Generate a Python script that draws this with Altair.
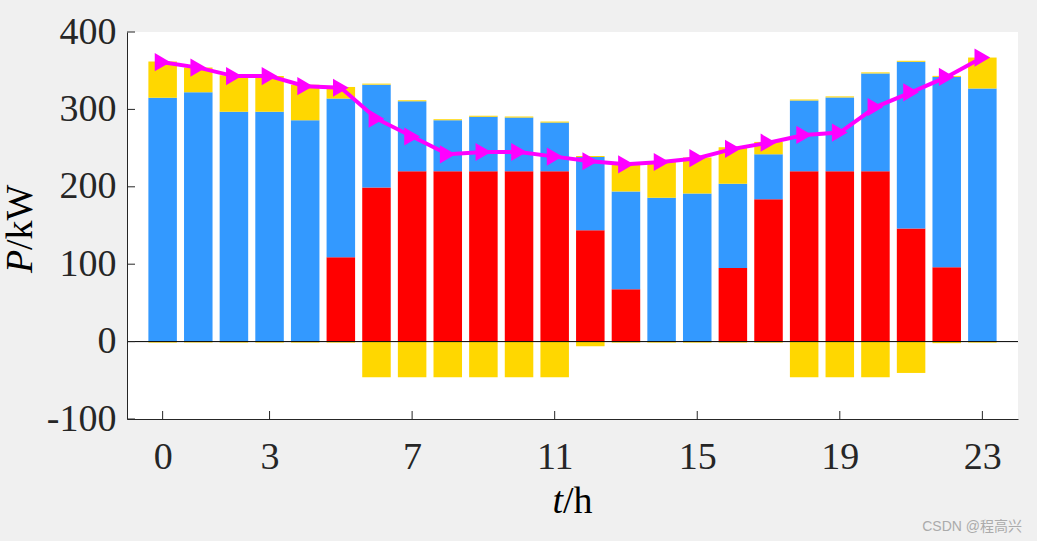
import altair as alt
import pandas as pd

hours = list(range(24))
red = [0, 0, 0, 0, 0, 109, 199, 220, 220, 220, 220, 220, 144, 67.5, 0, 0, 95, 184, 220, 220, 220, 146, 96, 0]
blue = [315, 322, 297, 297, 286, 205, 133, 90.5, 66, 70.5, 69.5, 63, 94.5, 126.5, 186, 191.5, 109, 58, 91.5, 95.5, 126.5, 215.5, 246, 327]
yellow_pos = [47, 32, 47, 46, 46, 15, 1.3, 1.3, 1.3, 1.3, 1.3, 1.3, 1.3, 36, 46, 46.5, 47, 16, 1.3, 1.3, 1.3, 1.3, 1.3, 40]
yellow_neg = [-1.3, -1.3, -1.3, -1.3, -1.3, -1.3, -46, -46, -46, -46, -46, -46, -6, -1.3, -1.3, -1.3, -1.3, -1.3, -46, -46, -46, -40.5, -2, -1.3]
load = [361, 354, 343, 343, 330, 328, 288, 265, 242, 245, 245, 239, 233, 229, 232, 237, 249, 257, 267, 270, 303, 322, 342, 367]

x_ticks = [0, 3, 7, 11, 15, 19, 23]
y_ticks = [-100, 0, 100, 200, 300, 400]

RED, BLUE, YELLOW, MAGENTA = "#FF0000", "#3399FF", "#FFD700", "#FF00FF"
AX = "#262626"
FONT = "Liberation Serif"
W, H = 891, 387

rows = []
for i, h in enumerate(hours):
    r, b, yp, yn = red[i], blue[i], yellow_pos[i], yellow_neg[i]
    rows.append(dict(hour=h, comp="red", lo=0, hi=r))
    rows.append(dict(hour=h, comp="blue", lo=r, hi=r + b))
    rows.append(dict(hour=h, comp="ypos", lo=r + b, hi=r + b + yp))
    rows.append(dict(hour=h, comp="yneg", lo=yn, hi=0))
bars_df = pd.DataFrame(rows)
bars_df["x0"] = bars_df["hour"] - 0.4
bars_df["x1"] = bars_df["hour"] + 0.4

line_df = pd.DataFrame({"hour": hours, "load": load})

xs = alt.Scale(domain=[-1, 24], nice=False, zero=False)
ys = alt.Scale(domain=[-100, 400], nice=False, zero=False)
x_axis = alt.Axis(values=x_ticks, title=None, ticks=False, grid=False,
                  labelFont=FONT, labelFontSize=38, labelColor=AX,
                  labelPadding=19, domainColor=AX, domainWidth=1, labelFlush=False,
                  labelExpr="datum.value + ''")
y_axis = alt.Axis(values=y_ticks, title=None, ticks=False, grid=False,
                  labelFont=FONT, labelFontSize=38, labelColor=AX,
                  labelPadding=11, domainColor=AX, domainWidth=1, labelFlush=False,
                  labelExpr="datum.value + ''")

bars = alt.Chart(bars_df).mark_bar(strokeWidth=0).encode(
    x=alt.X("x0:Q", scale=xs, axis=x_axis),
    x2="x1:Q",
    y=alt.Y("lo:Q", scale=ys, stack=None, axis=y_axis),
    y2="hi:Q",
    color=alt.Color("comp:N", scale=alt.Scale(domain=["red", "blue", "ypos", "yneg"],
                                              range=[RED, BLUE, YELLOW, YELLOW]), legend=None),
)

zero = alt.Chart(pd.DataFrame({"v": [0]})).mark_rule(color="black", strokeWidth=1).encode(
    y=alt.Y("v:Q", scale=ys, axis=y_axis), x=alt.value(0), x2=alt.value(W)
)

line = alt.Chart(line_df).mark_line(color=MAGENTA, strokeWidth=4).encode(
    x=alt.X("hour:Q", scale=xs, axis=x_axis), y=alt.Y("load:Q", scale=ys, axis=y_axis)
)
pts = alt.Chart(line_df).mark_point(shape="triangle-right", filled=True, size=330, color=MAGENTA, opacity=1).encode(
    x=alt.X("hour:Q", scale=xs, axis=x_axis), y=alt.Y("load:Q", scale=ys, axis=y_axis)
)

yt = alt.Chart(pd.DataFrame({"v": y_ticks})).mark_rule(color=AX, strokeWidth=1).encode(
    y=alt.Y("v:Q", scale=ys, axis=y_axis), x=alt.value(0), x2=alt.value(8)
)
xt = alt.Chart(pd.DataFrame({"v": x_ticks})).mark_rule(color=AX, strokeWidth=1).encode(
    x=alt.X("v:Q", scale=xs, axis=x_axis), y=alt.value(H), y2=alt.value(H - 8)
)

def txt(s, x, y, italic=False, align="left", angle=0, size=38, font=FONT, color="black"):
    return alt.Chart(pd.DataFrame({"t": [s]})).mark_text(
        font=font, fontSize=size, fontStyle="italic" if italic else "normal",
        align=align, baseline="alphabetic", angle=angle, color=color
    ).encode(text="t:N", x=alt.value(x), y=alt.value(y))

t1 = txt("t", 436, 481, italic=True, align="right")
t2 = txt("/h", 436, 481)
p1 = txt("P", -95, 241, italic=True, angle=270)
p2 = txt("/kW", -95, 218, angle=270)
wm = txt("CSDN @程高兴", 895, 499, align="right", size=14,
         font="Liberation Sans, Noto Sans CJK SC", color="#ababab")

chart = alt.layer(bars, zero, line, pts, yt, xt, t1, t2, p1, p2, wm).properties(
    width=W, height=H, background="#F0F0F0",
    autosize=alt.AutoSizeParams(type="none"),
    padding={"left": 127, "top": 32, "right": 1037 - 127 - W, "bottom": 541 - 32 - H},
).configure_view(fill="white", stroke=None)

chart.save("out.html", embed_options={"renderer": "svg", "actions": False})
